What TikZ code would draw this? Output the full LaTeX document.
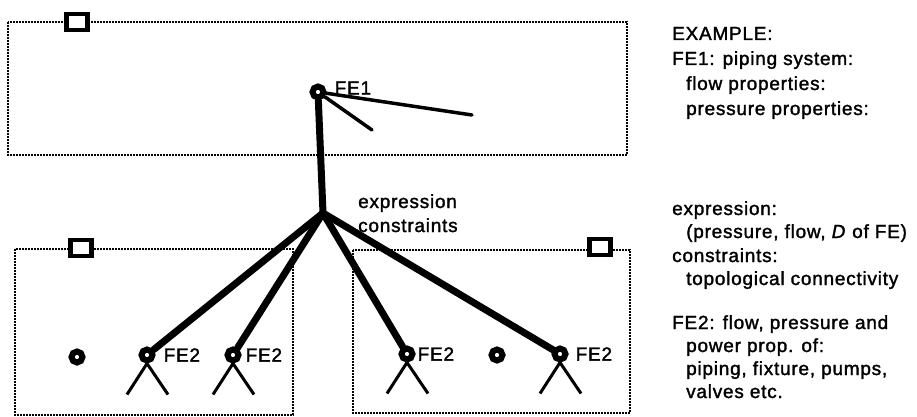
\documentclass[tikz,border=0pt]{standalone}
\usepackage{fontspec}
\setmainfont{Liberation Sans}
\newfontfamily\scanfont{Liberation Sans}[FakeBold=1.6, LetterSpace=4]
\usetikzlibrary{positioning}

\begin{document}
\begin{tikzpicture}[x=1pt, y=-1pt,
  ring/.style={circle, draw, line width=6pt, inner sep=0pt, minimum size=11pt},
  port/.style={rectangle, draw, line width=4.5pt, fill=white, inner sep=0pt, minimum width=21pt, minimum height=16pt},
  frame/.style={line width=1.1pt, dash pattern=on 2pt off 1pt},
  bond/.style={line width=7pt, line cap=round},
  twig/.style={line width=3.5pt, line cap=round},
  leg/.style={line width=3pt},
  lbl/.style={inner sep=0pt, font=\scanfont\fontsize{19}{23}\selectfont},
  note/.style={lbl, anchor=base west}
]
  \useasboundingbox (0,0) rectangle (917,417);

  % system boxes
  \draw[frame] (8,22) rectangle (627,155);
  \draw[frame] (15,249) rectangle (293,415);
  \draw[frame] (353,250) rectangle (630,413);
  \node[port] (top)   at (77,22) {};
  \node[port] (left)  at (81,248) {};
  \node[port] (right) at (600,247) {};

  % elements
  \node[ring] (fe1) at (318,92) {};
  \node[ring] (f2a) at (147,355) {};
  \node[ring] (f2b) at (233,355) {};
  \node[ring] (f2c) at (407,354) {};
  \node[ring] (f2d) at (560,354) {};
  \node[ring] (pa)  at (77,357) {};
  \node[ring] (pb)  at (497,355) {};

  \node[lbl, right=8pt of fe1, yshift=4pt] (fe1lbl) {FE1};
  \node[lbl, right=8pt of f2a] (f2albl) {FE2};
  \node[lbl, right=4pt of f2b] (f2blbl) {FE2};
  \node[lbl, right=2pt of f2c] (f2clbl) {FE2};
  \node[lbl, right=7pt of f2d] (f2dlbl) {FE2};

  \coordinate (hub) at (323,213);
  \coordinate (ea) at (472,115);
  \coordinate (eb) at (372,130);

  \draw[bond] (fe1) -- (hub);
  \draw[bond] (hub) -- (f2a);
  \draw[bond] (hub) -- (f2b);
  \draw[bond] (hub) -- (f2c);
  \draw[bond] (hub) -- (f2d);
  \draw[twig] (fe1) -- (ea);
  \draw[twig] (fe1) -- (eb);

  \foreach \n in {f2a,f2b,f2c,f2d} {
    \path (\n.south) ++(-20,31) coordinate (\n-l) (\n.south) ++(21,31) coordinate (\n-r);
    \draw[leg] (\n.south) -- (\n-l);
    \draw[leg] (\n.south) -- (\n-r);
  }

  \node[note] (expr) at (358,208) {expression};
  \node[note] (cons) at (358,232) {constraints};

  % legend
  \node[note] (n1)  at (672,40)  {EXAMPLE:};
  \node[note] (n2)  at (672,65)  {FE1: piping system:};
  \node[note] (n3)  at (686,90)  {flow properties:};
  \node[note] (n4)  at (686,115) {pressure properties:};
  \node[note] (n5)  at (672,215) {expression:};
  \node[note] (n6)  at (686,238) {(pressure, flow, \textit{D} of FE)};
  \node[note] (n7)  at (672,262) {constraints:};
  \node[note] (n8)  at (686,285) {topological connectivity};
  \node[note] (n9)  at (672,329) {FE2: flow, pressure and};
  \node[note] (n10) at (686,352) {power prop. of:};
  \node[note] (n11) at (686,375) {piping, fixture, pumps,};
  \node[note] (n12) at (686,398) {valves etc.};
\end{tikzpicture}
\end{document}
